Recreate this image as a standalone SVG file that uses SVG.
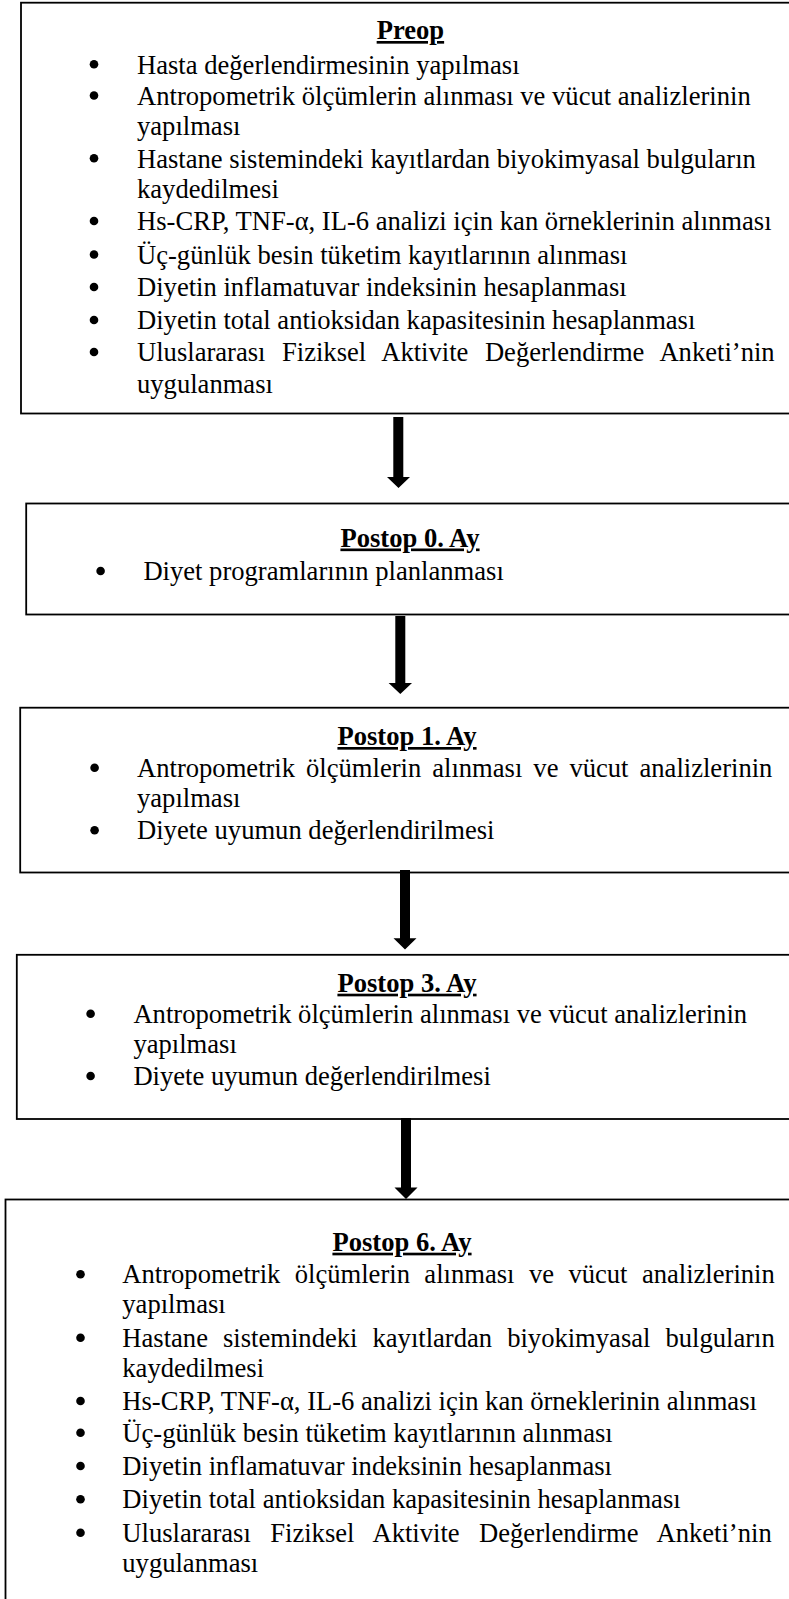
<svg xmlns="http://www.w3.org/2000/svg" width="789" height="1599" viewBox="0 0 789 1599">
<style>
.box{fill:#fff;stroke:#000;stroke-width:1.8}
.t{font-family:"Liberation Serif","Times New Roman",serif;font-size:26.6px;fill:#000}
.h{font-weight:bold;text-anchor:middle;text-decoration:underline}
.dot{fill:#000}
.arr{fill:#000}
</style>
<rect width="789" height="1599" fill="#fff"/>
<g id="preop">
<rect class="box" x="21" y="2.7" width="800" height="410.8"/>
<text class="t h" x="410.4" y="39">Preop</text>
<circle class="dot" cx="94" cy="64.3" r="4.3"/>
<text class="t" x="137" y="73.5">Hasta değerlendirmesinin yapılması</text>
<circle class="dot" cx="94" cy="95.5" r="4.3"/>
<text class="t" x="137" y="104.5">Antropometrik ölçümlerin alınması ve vücut analizlerinin</text>
<text class="t" x="137" y="135">yapılması</text>
<circle class="dot" cx="94" cy="158.3" r="4.3"/>
<text class="t" x="137" y="167.5">Hastane sistemindeki kayıtlardan biyokimyasal bulguların</text>
<text class="t" x="137" y="198">kaydedilmesi</text>
<circle class="dot" cx="94" cy="221" r="4.3"/>
<text class="t" x="137" y="230">Hs-CRP, TNF-α, IL-6 analizi için kan örneklerinin alınması</text>
<circle class="dot" cx="94" cy="254.5" r="4.3"/>
<text class="t" x="137" y="263.5">Üç-günlük besin tüketim kayıtlarının alınması</text>
<circle class="dot" cx="94" cy="287" r="4.3"/>
<text class="t" x="137" y="296">Diyetin inflamatuvar indeksinin hesaplanması</text>
<circle class="dot" cx="94" cy="320" r="4.3"/>
<text class="t" x="137" y="329">Diyetin total antioksidan kapasitesinin hesaplanması</text>
<circle class="dot" cx="94" cy="352" r="4.3"/>
<text class="t" x="137" y="361" word-spacing="9.85">Uluslararası Fiziksel Aktivite Değerlendirme Anketi’nin</text>
<text class="t" x="137" y="392.5">uygulanması</text>
</g>
<g id="postop0">
<rect class="box" x="26.2" y="503.5" width="800" height="111"/>
<text class="t h" x="410" y="546.5">Postop 0. Ay</text>
<circle class="dot" cx="100.6" cy="571" r="4.3"/>
<text class="t" x="143.4" y="580">Diyet programlarının planlanması</text>
</g>
<g id="postop1">
<rect class="box" x="20.2" y="707.7" width="800" height="164.8"/>
<text class="t h" x="407" y="745">Postop 1. Ay</text>
<circle class="dot" cx="94.6" cy="767.7" r="4.3"/>
<text class="t" x="137" y="776.7" word-spacing="4.34">Antropometrik ölçümlerin alınması ve vücut analizlerinin</text>
<text class="t" x="137" y="807.3">yapılması</text>
<circle class="dot" cx="94.6" cy="830.3" r="4.3"/>
<text class="t" x="137" y="839.3">Diyete uyumun değerlendirilmesi</text>
</g>
<g id="postop3">
<rect class="box" x="16.8" y="954.8" width="800" height="164.2"/>
<text class="t h" x="407" y="991.7">Postop 3. Ay</text>
<circle class="dot" cx="90.6" cy="1013.7" r="4.3"/>
<text class="t" x="133.4" y="1022.7">Antropometrik ölçümlerin alınması ve vücut analizlerinin</text>
<text class="t" x="133.4" y="1052.7">yapılması</text>
<circle class="dot" cx="90.6" cy="1076" r="4.3"/>
<text class="t" x="133.4" y="1085">Diyete uyumun değerlendirilmesi</text>
</g>
<g id="postop6">
<rect class="box" x="5.5" y="1199.5" width="800" height="420"/>
<text class="t h" x="402" y="1250.7">Postop 6. Ay</text>
<circle class="dot" cx="80.5" cy="1274.3" r="4.3"/>
<text class="t" x="122.3" y="1283.3" word-spacing="7.76">Antropometrik ölçümlerin alınması ve vücut analizlerinin</text>
<text class="t" x="122.3" y="1313.3">yapılması</text>
<circle class="dot" cx="80.5" cy="1337.7" r="4.3"/>
<text class="t" x="122.3" y="1346.7" word-spacing="8.4">Hastane sistemindeki kayıtlardan biyokimyasal bulguların</text>
<text class="t" x="122.3" y="1376.7">kaydedilmesi</text>
<circle class="dot" cx="80.5" cy="1401" r="4.3"/>
<text class="t" x="122.3" y="1410">Hs-CRP, TNF-α, IL-6 analizi için kan örneklerinin alınması</text>
<circle class="dot" cx="80.5" cy="1432.7" r="4.3"/>
<text class="t" x="122.3" y="1441.7">Üç-günlük besin tüketim kayıtlarının alınması</text>
<circle class="dot" cx="80.5" cy="1466" r="4.3"/>
<text class="t" x="122.3" y="1475">Diyetin inflamatuvar indeksinin hesaplanması</text>
<circle class="dot" cx="80.5" cy="1499.3" r="4.3"/>
<text class="t" x="122.3" y="1508.3">Diyetin total antioksidan kapasitesinin hesaplanması</text>
<circle class="dot" cx="80.5" cy="1532.7" r="4.3"/>
<text class="t" x="122.3" y="1541.7" word-spacing="12.8">Uluslararası Fiziksel Aktivite Değerlendirme Anketi’nin</text>
<text class="t" x="122.3" y="1571.7">uygulanması</text>
</g>
<g id="connectors">
<path class="arr" d="M393.3,417 H403.3 V477 H410 L398.5,488 L387,477 H393.3 Z"/>
<path class="arr" d="M395.3,616 H405.3 V683 H412 L400.3,694 L388.6,683 H395.3 Z"/>
<path class="arr" d="M400,870 H410 V938.3 H416.5 L405,949.5 L393.5,938.3 H400 Z"/>
<path class="arr" d="M401,1118 H411 V1187.5 H417.5 L406,1199 L394.5,1187.5 H401 Z"/>
</g>
</svg>
